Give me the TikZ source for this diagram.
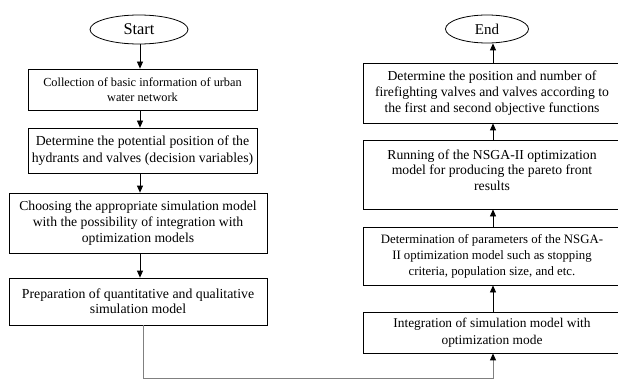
\documentclass[tikz,border=0pt]{standalone}
\usepackage{fontspec}
\setmainfont{Liberation Serif}
\usetikzlibrary{arrows.meta,shapes.geometric}
\begin{document}
\begin{tikzpicture}[x=1pt,y=-1pt,
  box/.style={draw=black, line width=0.8pt, rectangle, inner sep=0pt, align=center, font=\fontsize{13.7}{16}\selectfont},
  term/.style={draw=black, line width=0.8pt, ellipse, inner sep=0pt},
  arr/.style={draw=black, line width=0.8pt, -{Triangle[length=7pt,width=6pt]}},
  conn/.style={draw=black!50, line width=1pt, -{Triangle[length=7pt,width=6pt,black]}},
  txt/.style={inner sep=0pt, align=center, font=\fontsize{13.7}{15.5}\selectfont}
]
\useasboundingbox (0,0) rectangle (618,385);
\fill[white] (0,0) rectangle (618,385);
\begin{scope}
\clip (0,0) rectangle (618,385);
% left column
\node[term, minimum width=98pt, minimum height=29pt, font=\fontsize{16.4}{18}\selectfont] (start) at (139,29.5) {Start};
\node[box, minimum width=229pt, minimum height=41pt, font=\fontsize{12.3}{14.5}\selectfont] (b1) at (142.5,89.5) {Collection of basic information of urban\\water network};
\node[box, minimum width=229pt, minimum height=45pt, font=\fontsize{13.8}{17.5}\selectfont] (b2) at (142.5,150.5) {Determine the potential position of the\\hydrants and valves (decision variables)};
\node[box, minimum width=258pt, minimum height=60pt] (b3) at (138,223) {Choosing the appropriate simulation model\\with the possibility of integration with\\optimization models};
\node[box, minimum width=258pt, minimum height=47pt, font=\fontsize{13.8}{15}\selectfont] (b4) at (138,301.5) {Preparation of quantitative and qualitative\\simulation model};
% right column
\node[term, minimum width=83pt, minimum height=28pt, font=\fontsize{15}{17}\selectfont] (end) at (487,29) {End};
\node[box, minimum width=258pt, minimum height=60pt] (r4) at (492,93) {Determine the position and number of\\firefighting valves and valves according to\\the first and second objective functions};
\node[box, minimum width=258pt, minimum height=69pt] (r3) at (492,174.5) {};
\node[txt] (r3t) at (492,170) {Running of the NSGA-II optimization\\model for producing the pareto front\\results};
\node[box, minimum width=258pt, minimum height=58pt, font=\fontsize{12.8}{16}\selectfont] (r2) at (492,256) {Determination of parameters of the NSGA-\\II optimization model such as stopping\\criteria, population size, and etc.};
\node[box, minimum width=258pt, minimum height=41pt, font=\fontsize{13.4}{16.5}\selectfont] (r1) at (492,332.5) {Integration of simulation model with\\optimization mode};
% connectors
\coordinate (lx) at (140,0);
\coordinate (rx) at (493,0);
\draw[arr] (lx |- start.south) -- (lx |- b1.north);
\draw[arr] (lx |- b1.south) -- (lx |- b2.north);
\draw[arr] (lx |- b2.south) -- (lx |- b3.north);
\draw[arr] (lx |- b3.south) -- (lx |- b4.north);
\coordinate (t1) at (143,378);
\coordinate (t2) at (493,378);
\draw[conn] (t1 |- b4.south) -- (t1) -- (t2) -- (t2 |- r1.south);
\draw[arr] (rx |- r1.north) -- (rx |- r2.south);
\draw[arr] (rx |- r2.north) -- (rx |- r3.south);
\draw[arr] (rx |- r3.north) -- (rx |- r4.south);
\draw[arr] (rx |- r4.north) -- (rx |- end.south);
\end{scope}
\end{tikzpicture}
\end{document}
